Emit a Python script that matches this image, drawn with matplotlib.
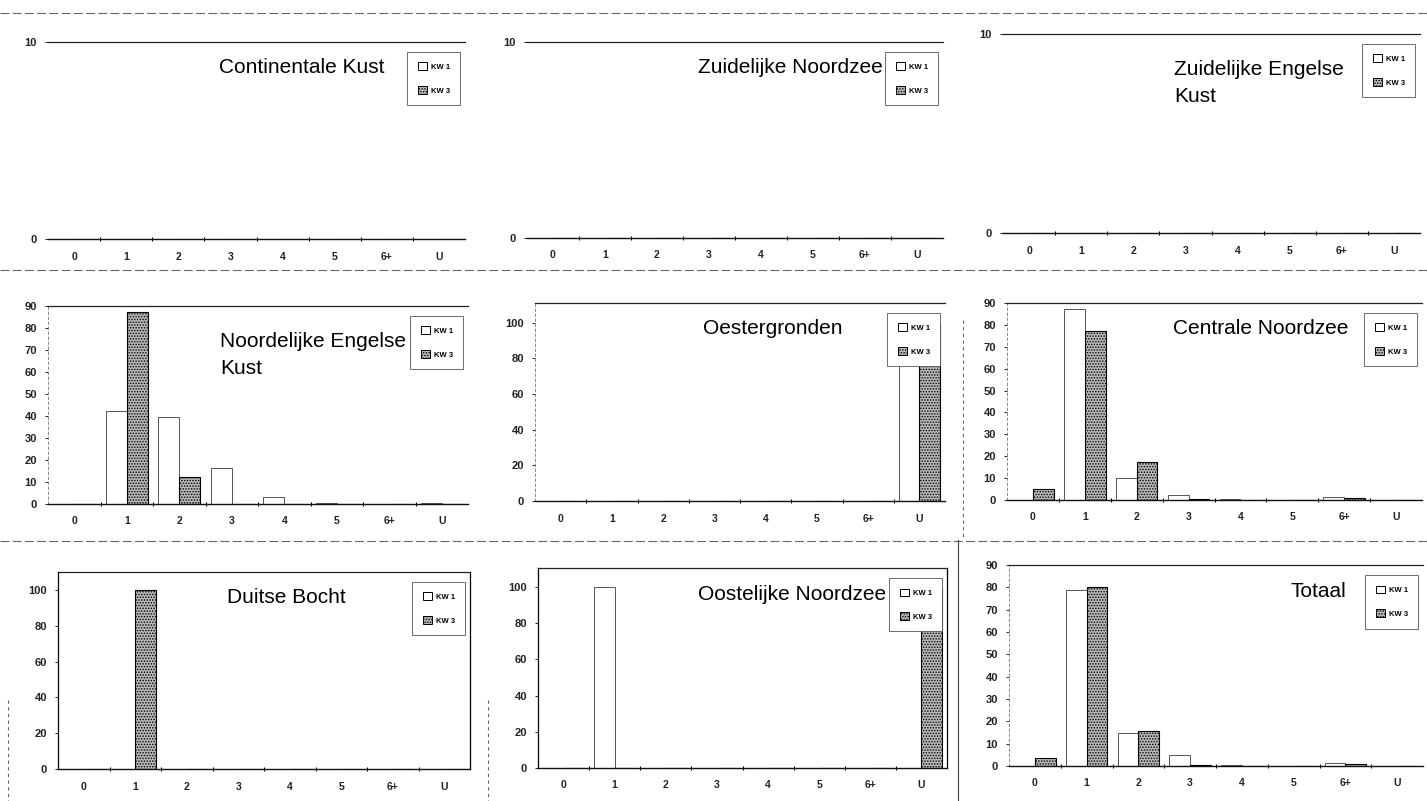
import matplotlib.pyplot as plt
from matplotlib.patches import Patch
from matplotlib.lines import Line2D
import numpy as np

plt.rcParams['font.family'] = ['Liberation Sans', 'DejaVu Sans']
plt.rcParams['hatch.linewidth'] = 0.7

# leeftijdsklassen
cats = ['0', '1', '2', '3', '4', '5', '6+', 'U']

# percentages per gebied, kwartaal 1 en kwartaal 3
cont_kw1 = [0, 0, 0, 0, 0, 0, 0, 0]
cont_kw3 = [0, 0, 0, 0, 0, 0, 0, 0]
zn_kw1 = [0, 0, 0, 0, 0, 0, 0, 0]
zn_kw3 = [0, 0, 0, 0, 0, 0, 0, 0]
zek_kw1 = [0, 0, 0, 0, 0, 0, 0, 0]
zek_kw3 = [0, 0, 0, 0, 0, 0, 0, 0]
nek_kw1 = [0, 42.3, 39.7, 16.3, 3.1, 0.5, 0.2, 0.3]
nek_kw3 = [0, 87.5, 12.5, 0, 0, 0, 0, 0]
oest_kw1 = [0, 0, 0, 0, 0, 0, 0, 100]
oest_kw3 = [0, 0, 0, 0, 0, 0, 0, 100]
cn_kw1 = [0, 87.3, 10, 2.5, 0.3, 0, 1.5, 0.2]
cn_kw3 = [5.2, 77, 17.2, 0.5, 0, 0, 1, 0]
db_kw1 = [0, 0, 0, 0, 0, 0, 0, 0]
db_kw3 = [0, 100, 0, 0, 0, 0, 0, 0]
on_kw1 = [0, 100, 0, 0, 0, 0, 0, 0]
on_kw3 = [0, 0, 0, 0, 0, 0, 0, 100]
tot_kw1 = [0, 78.9, 14.9, 5.1, 0.3, 0, 1.5, 0.2]
tot_kw3 = [3.7, 80, 15.8, 0.5, 0, 0, 1, 0]

titles = ['Continentale Kust', 'Zuidelijke Noordzee', 'Zuidelijke Engelse\nKust',
          'Noordelijke Engelse\nKust', 'Oestergronden', 'Centrale Noordzee',
          'Duitse Bocht', 'Oostelijke Noordzee', 'Totaal']
kw1_all = [cont_kw1, zn_kw1, zek_kw1, nek_kw1, oest_kw1, cn_kw1, db_kw1, on_kw1, tot_kw1]
kw3_all = [cont_kw3, zn_kw3, zek_kw3, nek_kw3, oest_kw3, cn_kw3, db_kw3, on_kw3, tot_kw3]

W, H = 1427, 801
fig = plt.figure(figsize=(W / 100, H / 100), dpi=100)

# assen in pixels: links, rechts, boven, onder
boxes = [(48, 465, 42, 239), (527, 943, 42, 238), (1003, 1420, 34, 233),
         (48, 468, 306, 504), (535, 945, 303, 501), (1007, 1422, 303, 500),
         (58, 470, 572, 769), (538, 947, 568, 768), (1009, 1423, 565, 766)]
ytop = [10, 10, 10, 90, 111, 90, 110, 110.5, 90]
ystep = [10, 10, 10, 10, 20, 10, 20, 20, 10]
ymax_tick = [10, 10, 10, 90, 100, 90, 100, 100, 90]
title_x = [0.41, 0.41, 0.41, 0.41, 0.41, 0.40, 0.41, 0.39, 0.68]

x = np.arange(len(cats))
dots = '#b8b8b8'

for i in range(9):
    l, r, t, b = boxes[i]
    ax = fig.add_axes([l / W, 1 - b / H, (r - l) / W, (b - t) / H])
    ax.bar(x - 0.2, kw1_all[i], 0.4, facecolor='white', edgecolor='#555555', lw=0.7)
    ax.bar(x + 0.2, kw3_all[i], 0.4, facecolor=dots, edgecolor='black', lw=0.8,
           hatch='......')
    ax.set_xlim(-0.5, 7.5)
    ax.set_ylim(0, ytop[i])
    ax.set_yticks(np.arange(0, ymax_tick[i] + 1, ystep[i]))
    ax.set_xticks(x)
    ax.set_xticklabels(cats)
    ax.set_xticks(np.arange(0.5, 7.5, 1), minor=True)
    ax.tick_params(axis='x', which='major', length=0, pad=9, labelsize=7.5)
    ax.tick_params(axis='x', which='minor', length=3, width=0.8, direction='inout')
    ax.tick_params(axis='y', length=2, width=0.6, pad=6, labelsize=8)
    for lab in ax.get_xticklabels() + ax.get_yticklabels():
        lab.set_fontweight('bold')
        lab.set_color('#222222')

    ax.spines['top'].set_color('#222222')
    ax.spines['bottom'].set_color('#111111')
    ax.spines['top'].set_linewidth(0.9)
    ax.spines['bottom'].set_linewidth(1.0)
    if i < 3:
        ax.spines['left'].set_visible(False)
        ax.spines['right'].set_visible(False)
    elif i in (6, 7):
        ax.spines['left'].set_linewidth(0.9)
        ax.spines['right'].set_linewidth(0.9)
    else:
        ax.spines['left'].set_linestyle((0, (3, 3)))
        ax.spines['left'].set_color('#777777')
        ax.spines['left'].set_linewidth(0.6)
        ax.spines['right'].set_visible(False)

    ax.text(title_x[i], 0.87, titles[i], transform=ax.transAxes, fontsize=15,
            ha='left', va='top' if '\n' in titles[i] else 'center',
            linespacing=1.55)

    handles = [Patch(facecolor='white', edgecolor='black', lw=0.7),
               Patch(facecolor=dots, edgecolor='black', lw=0.7, hatch='......')]
    leg = ax.legend(handles, ['KW 1', 'KW 3'], loc='upper right',
                    bbox_to_anchor=(0.998, 0.97), prop={'weight': 'bold', 'size': 5.5},
                    handlelength=1.2, handleheight=1.2, handletextpad=0.5,
                    labelspacing=2.0, borderpad=1.4, fancybox=False, framealpha=1,
                    edgecolor='#555555')
    leg.get_frame().set_linewidth(0.6)

# scheidingslijnen tussen de panelen
def fig_line(xs, ys, ls=(0, (8, 3)), c='#666666', lw=0.8):
    fig.add_artist(Line2D([v / W for v in xs], [1 - v / H for v in ys],
                          color=c, lw=lw, ls=ls))

fig_line([0, W], [13, 13])
fig_line([0, W], [270, 270])
fig_line([0, W], [541, 541])
fig_line([958, 958], [540, 801], ls='-', c='#444444')
fig_line([963, 963], [320, 540], ls=(0, (3, 3)))
fig_line([8, 8], [700, 801], ls=(0, (3, 3)))
fig_line([488, 488], [700, 801], ls=(0, (3, 3)))

fig.savefig('out.png', dpi=100, facecolor='white')
